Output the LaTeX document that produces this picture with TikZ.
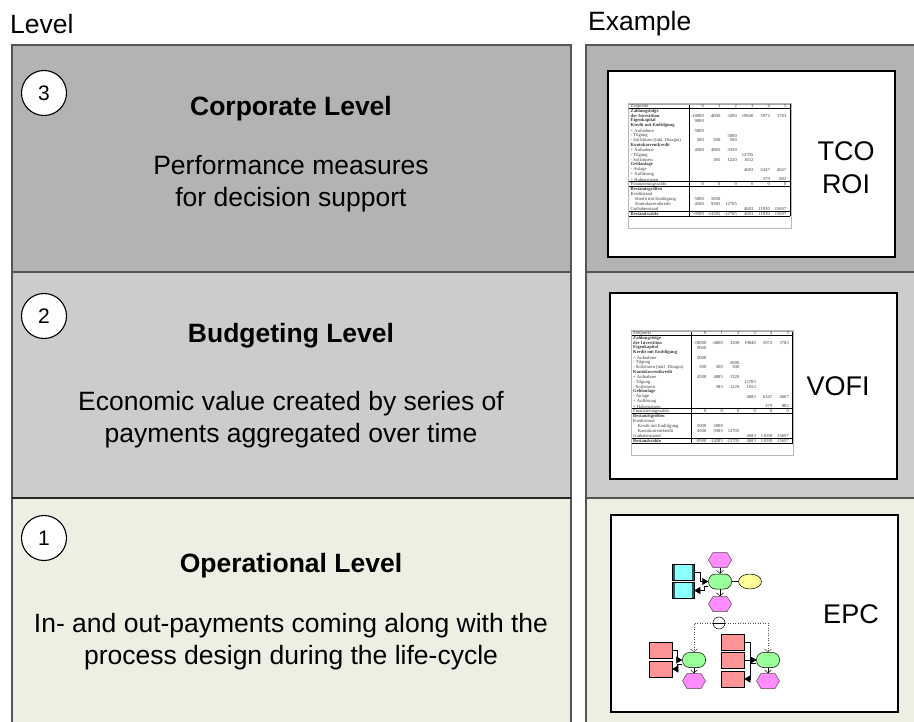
\documentclass[tikz,border=0pt]{standalone}
\usepackage{fontspec}
\setmainfont{Liberation Sans}
\newfontfamily\tabfont{Liberation Serif}
\usetikzlibrary{shapes.geometric,shapes.symbols,arrows.meta,calc}
\definecolor{lvthree}{HTML}{B3B3B3}
\definecolor{lvtwo}{HTML}{CCCCCC}
\definecolor{lvone}{HTML}{EEEEE2}
\definecolor{frameg}{HTML}{555555}
\definecolor{epcmag}{HTML}{FF8CFF}
\definecolor{epcgreen}{HTML}{99FF99}
\definecolor{epcyel}{HTML}{FFFF99}
\definecolor{epccyan}{HTML}{8CFFFF}
\definecolor{epcred}{HTML}{FF9494}
\definecolor{infodark}{HTML}{1F5F5F}
\definecolor{tabtext}{HTML}{3A3A3A}
% table helpers
\newcommand\tl[3]{\node[tlabel] (#1l#2) at (1.5,{2.2+4.886*#2}) {#3};}
\newcommand\tlb[3]{\node[tlabel,font=\tabfont\bfseries\fontsize{4.6}{4.8}\selectfont] (#1l#2) at (1.5,{2.2+4.886*#2}) {#3};}
\newcommand\tn[4]{\node[tnum] (#1r#2c#3) at ({75+16.5*#3},{2.2+4.886*#2}) {#4};}
\newcommand\vofi[3]{%
\begin{scope}[shift={(#2,#3)}]
\draw[gray!55,line width=0.5pt] (-0.5,-0.5) rectangle (162,124);
\draw[line width=0.8pt] (0,4.5) -- (161,4.5) (60,0) -- (60,112) (161,0) -- (161,112)
  (0,77.7) -- (161,77.7) (0,82.6) -- (161,82.6) (0,107) -- (161,107) (0,112) -- (161,112);
\draw[gray!70,line width=0.4pt] (0,0) -- (161,0);
\tl{#1}{0}{Zeitpunkt}
\tn{#1}{0}{0}{0}\tn{#1}{0}{1}{1}\tn{#1}{0}{2}{2}\tn{#1}{0}{3}{3}\tn{#1}{0}{4}{4}\tn{#1}{0}{5}{5}
\tlb{#1}{1}{Zahlungsfolge}
\tlb{#1}{2}{der Investition}
\tn{#1}{2}{0}{-18000}\tn{#1}{2}{1}{-4000}\tn{#1}{2}{2}{3200}\tn{#1}{2}{3}{19840}\tn{#1}{2}{4}{5972}\tn{#1}{2}{5}{3783}
\tlb{#1}{3}{Eigenkapital}
\tn{#1}{3}{0}{9000}
\tlb{#1}{4}{Kredit mit Endtilgung}
\tl{#1}{5}{+ Aufnahme}
\tn{#1}{5}{0}{5000}
\tl{#1}{6}{- Tilgung}
\tn{#1}{6}{2}{5000}
\tl{#1}{7}{- Sollzinsen (inkl. Disagio)}
\tn{#1}{7}{0}{500}\tn{#1}{7}{1}{500}\tn{#1}{7}{2}{500}
\tlb{#1}{8}{Kontokorrentkredit}
\tl{#1}{9}{+ Aufnahme}
\tn{#1}{9}{0}{4500}\tn{#1}{9}{1}{4885}\tn{#1}{9}{2}{3320}
\tl{#1}{10}{- Tilgung}
\tn{#1}{10}{3}{12705}
\tl{#1}{11}{- Sollzinsen}
\tn{#1}{11}{1}{385}\tn{#1}{11}{2}{1220}\tn{#1}{11}{3}{1652}
\tlb{#1}{12}{Geldanlage}
\tl{#1}{13}{- Anlage}
\tn{#1}{13}{3}{4683}\tn{#1}{13}{4}{6347}\tn{#1}{13}{5}{4667}
\tl{#1}{14}{+ Auflösung}
\tl{#1}{15}{+ Habenzinsen}
\tn{#1}{15}{4}{379}\tn{#1}{15}{5}{882}
\tl{#1}{16}{Finanzierungssaldo}
\tn{#1}{16}{0}{0}\tn{#1}{16}{1}{0}\tn{#1}{16}{2}{0}\tn{#1}{16}{3}{0}\tn{#1}{16}{4}{0}\tn{#1}{16}{5}{0}
\tlb{#1}{17}{Bestandsgrößen}
\tl{#1}{18}{Kreditstand}
\tl{#1}{19}{\quad Kredit mit Endtilgung}
\tn{#1}{19}{0}{5000}\tn{#1}{19}{1}{5000}
\tl{#1}{20}{\quad Kontokorrentkredit}
\tn{#1}{20}{0}{4500}\tn{#1}{20}{1}{9385}\tn{#1}{20}{2}{12705}
\tl{#1}{21}{Guthabenstand}
\tn{#1}{21}{3}{4683}\tn{#1}{21}{4}{11030}\tn{#1}{21}{5}{15697}
\tlb{#1}{22}{Bestandssaldo}
\tn{#1}{22}{0}{-9500}\tn{#1}{22}{1}{-14385}\tn{#1}{22}{2}{-12705}\tn{#1}{22}{3}{4683}\tn{#1}{22}{4}{11030}\tn{#1}{22}{5}{15697}
\end{scope}}
\begin{document}
\begin{tikzpicture}[x=1pt,y=-1pt,
  panel/.style={draw=frameg,line width=1.6pt},
  whitebox/.style={draw=black,fill=white,line width=1.6pt},
  hdr/.style={font=\fontsize{26.5}{32}\selectfont,inner sep=0pt,anchor=west},
  titlet/.style={font=\bfseries\fontsize{26.5}{32}\selectfont,inner sep=0pt},
  bodyt/.style={font=\fontsize{26.5}{32}\selectfont,align=center,inner sep=0pt},
  extext/.style={font=\fontsize{27}{33}\selectfont,align=center,inner sep=0pt},
  numcirc/.style={circle,draw=black,fill=white,line width=1.1pt,minimum size=45pt,inner sep=0pt,font=\fontsize{21}{24}\selectfont},
  tlabel/.style={anchor=west,inner sep=0pt,text=tabtext,font=\tabfont\fontsize{4.6}{4.8}\selectfont},
  tnum/.style={anchor=east,inner sep=0pt,text=tabtext,font=\tabfont\fontsize{4.6}{4.8}\selectfont},
  evhex/.style={shape=signal,signal to=east and west,signal pointer angle=118,draw=black!75!magenta,fill=epcmag,minimum width=23pt,minimum height=15pt,inner sep=0pt,line width=0.5pt},
  fnode/.style={rectangle,rounded corners=7pt,draw=black,fill=epcgreen,minimum width=23pt,minimum height=15pt,inner sep=0pt,line width=0.5pt},
  orgunit/.style={ellipse,draw=black,fill=epcyel,minimum width=23pt,minimum height=15pt,inner sep=0pt,line width=0.5pt},
  infobj/.style={rectangle,draw=black,fill=epccyan,minimum width=22pt,minimum height=16pt,inner sep=0pt,line width=0.5pt,
    path picture={\fill[infodark] (path picture bounding box.north west) rectangle ([xshift=2.5pt]path picture bounding box.south west);
                  \fill[infodark] ([xshift=-2.5pt]path picture bounding box.north east) rectangle (path picture bounding box.south east);}},
  redobj/.style={rectangle,draw=black,fill=epcred,minimum width=23pt,minimum height=16pt,inner sep=0pt,line width=0.5pt},
  xorc/.style={circle,draw=black,fill=white,minimum size=12pt,inner sep=0pt,line width=0.5pt,
    path picture={\draw[line width=0.5pt] (path picture bounding box.west) -- (path picture bounding box.east);}},
  arrF/.style={line width=0.5pt,-{Triangle[length=6pt,width=7pt]}},
  arrO/.style={line width=0.5pt,-{Straight Barb[length=3pt,width=7pt]}},
  dotl/.style={line width=0.5pt,dotted,draw=black!70}]
\useasboundingbox (0,0) rectangle (914,722);
% headers
\node[hdr] (hlevel) at (10,24) {Level};
\node[hdr] (hexample) at (588,24) {Example};
% panel fills
\fill[lvthree] (12,45) rectangle (571,272);
\fill[lvtwo] (12,272) rectangle (571,498);
\fill[lvone] (12,498) rectangle (571,730);
\fill[lvthree] (586,45) rectangle (925,272);
\fill[lvtwo] (586,272) rectangle (925,498);
\fill[lvone] (586,498) rectangle (925,730);
% panel frames
\draw[panel] (12,730) -- (12,45) -- (571,45) -- (571,730);
\draw[panel] (12,272) -- (571,272);
\draw[panel,draw=black!85] (12,498) -- (571,498);
\draw[panel] (586,730) -- (586,45) -- (925,45);
\draw[panel] (586,272) -- (925,272);
\draw[panel] (586,498) -- (925,498);
% level numbers
\node[numcirc] (c3) at (44,93) {3};
\node[numcirc] (c2) at (44,316) {2};
\node[numcirc] (c1) at (44,538) {1};
% level texts
\node[titlet] (t3) at (291,109) {Corporate Level};
\node[bodyt] (b3) at (291,184) {Performance measures\\for decision support};
\node[titlet] (t2) at (291,336) {Budgeting Level};
\node[bodyt] (b2) at (291,420) {Economic value created by series of\\payments aggregated over time};
\node[titlet] (t1) at (291,566) {Operational Level};
\node[bodyt] (b1) at (291,642) {In- and out-payments coming along with the\\process design during the life-cycle};
% example boxes
\draw[whitebox] (608,71) rectangle (895,257);
\draw[whitebox] (610,293) rectangle (897,479);
\draw[whitebox] (611,515) rectangle (898,712);
\node[extext] (x3) at (846,168) {TCO\\ROI};
\node[extext] (x2) at (838,386) {VOFI};
\node[extext] (x1) at (851,614) {EPC};
% VOFI tables
\vofi{ta}{629}{104}
\vofi{tb}{631.5}{331}
% EPC
\node[evhex] (e1) at (720,560) {};
\node[fnode] (f1) at (720,581.5) {};
\node[evhex] (e2) at (720,604) {};
\node[orgunit] (y1) at (750,581.5) {};
\node[infobj] (i1) at (683,572) {};
\node[infobj] (i2) at (683,590.5) {};
\node[xorc] (xr) at (719,623) {};
\node[redobj] (r1) at (660.5,650) {};
\node[redobj] (r2) at (660.5,669) {};
\node[fnode] (f2) at (694,660) {};
\node[evhex] (e3) at (694,681) {};
\node[redobj] (r3) at (732.5,642) {};
\node[redobj] (r4) at (732.5,660) {};
\node[redobj] (r5) at (732.5,679) {};
\node[fnode] (f3) at (768,660) {};
\node[evhex] (e4) at (768,681) {};
\draw[arrO] (e1) -- (f1);
\draw[arrO] (f1) -- (e2);
\draw[line width=0.5pt] (f1) -- (y1);
\draw[arrF] (i1.east) -- ++(6,0) |- (f1.west);
\draw[arrF] (f1.200) -- ++(-4,0) |- (i2.east);
\draw[dotl,arrO] (xr.west) -| (f2.north);
\draw[dotl,arrO] (xr.east) -| (f3.north);
\draw[arrF] (r1.east) -- ++(5,0) |- (f2.west);
\draw[arrF] (f2.200) -- ++(-5,0) |- (r2.east);
\draw[arrO] (f2) -- (e3);
\draw[arrF] (r3.east) -- ++(6,0) |- (f3.west);
\draw[arrF] (r4.east) -- (f3.west);
\draw[arrF] (f3.195) -- ++(-6,0) |- (r5.east);
\draw[arrO] (f3) -- (e4);
\end{tikzpicture}
\end{document}
